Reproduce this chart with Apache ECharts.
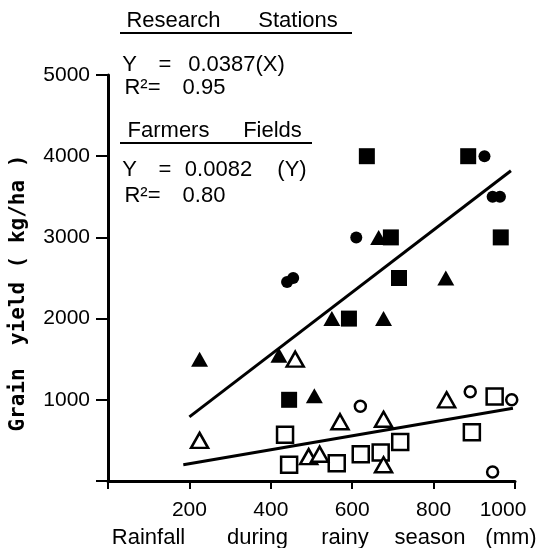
<!doctype html>
<html lang="en">
<head>
    <meta charset="UTF-8" />
    <title>Grain yield vs rainfall</title>
    <script src="https://cdn.jsdelivr.net/npm/echarts@6/dist/echarts.min.js"></script>
    <style>
        html, body { margin: 0; padding: 0; background: #fff; }
        #chart { width: 544px; height: 548px; }
    </style>
</head>
<body>
    <div id="chart"></div>
    <script type="text/javascript">
        // axis ranges
        var xMin = 0, xMax = 1000, xStep = 200;
        var yMin = 0, yMax = 5000, yStep = 1000;

        // research stations (filled markers)
        var stationSquares = [[636, 4000], [885, 4000], [965, 3000], [695, 3000], [715, 2500], [592, 2000], [445, 1000]];
        var stationCircles = [[925, 4000], [945, 3500], [963, 3500], [610, 3000], [440, 2450], [455, 2500]];
        var stationTriangles = [[665, 3000], [830, 2500], [550, 2000], [677, 2000], [225, 1500], [420, 1550], [507, 1050]];

        // farmers fields (open markers)
        var farmSquares = [[435, 570], [445, 200], [562, 220], [621, 330], [670, 350], [718, 480], [894, 600], [950, 1040]];
        var farmCircles = [[620, 920], [890, 1100], [992, 1000], [945, 110]];
        var farmTriangles = [[225, 500], [460, 1500], [493, 300], [520, 330], [570, 730], [677, 760], [677, 200], [832, 1000]];

        // fitted lines (end points)
        var stationFit = [[200, 790], [990, 3820]];
        var farmFit = [[185, 200], [995, 895]];

        // texts
        var xTitle = ['Rainfall', 'during', 'rainy', 'season', '(mm)'];
        var yTitle = ['Grain', 'yield', '( kg/ha )'];
        var stationHead = ['Research', 'Stations'];
        var stationEq = ['Y', '=', '0.0387(X)'];
        var stationR2 = ['R\u00b2=', '0.95'];
        var farmHead = ['Farmers', 'Fields'];
        var farmEq = ['Y', '=', '0.0082', '(Y)'];
        var farmR2 = ['R\u00b2=', '0.80'];

        var FONT = '"Liberation Sans", Arial, sans-serif';

        // one word, centred on x, sitting on baseline `base`
        function word(t, x, base) {
            return {
                type: 'text', x: x, y: base - 6.8, z: 10,
                style: {
                    text: t, fill: '#000', font: '22px ' + FONT,
                    align: 'center', textAlign: 'center',
                    verticalAlign: 'middle', textVerticalAlign: 'middle'
                }
            };
        }
        function row(words, xs, base) {
            return words.map(function (w, i) { return word(w, xs[i], base); });
        }
        function underline(x1, x2, y) {
            return { type: 'line', z: 10, shape: { x1: x1, y1: y, x2: x2, y2: y }, style: { stroke: '#000', lineWidth: 2 } };
        }

        var graphics = []
            .concat(row(stationHead, [173.5, 298], 28))
            .concat([underline(120, 352, 33)])
            .concat(row(stationEq, [129.5, 165, 236.5], 72))
            .concat(row(stationR2, [142.5, 204], 95))
            .concat(row(farmHead, [168.5, 272.5], 138))
            .concat([underline(120, 312, 143)])
            .concat(row(farmEq, [129.5, 165, 218.5, 292], 177))
            .concat(row(farmR2, [142.5, 204], 203))
            .concat(row(xTitle, [148.5, 257.5, 345, 430, 511], 545));

        var yTitleY = [400, 313.5, 211.5];
        yTitle.forEach(function (w, i) {
            graphics.push({
                type: 'text', x: 19, y: yTitleY[i], rotation: Math.PI / 2, z: 10,
                style: {
                    text: w, fill: '#000', font: 'bold 21px "DejaVu Sans Mono", monospace',
                    align: 'center', textAlign: 'center', verticalAlign: 'middle', textVerticalAlign: 'middle'
                }
            });
        });

        function filled(name, sym, size, data) {
            return { name: name, type: 'scatter', symbol: sym, symbolSize: size, data: data, z: 3,
                itemStyle: { color: '#000', opacity: 1 } };
        }
        function open(name, sym, size, data) {
            return { name: name, type: 'scatter', symbol: sym, symbolSize: size, data: data, z: 3,
                itemStyle: { color: '#fff', borderColor: '#000', borderWidth: 2.5, opacity: 1 } };
        }
        function fit(name, data) {
            return { name: name, type: 'line', data: data, symbol: 'none', z: 2,
                lineStyle: { color: '#000', width: 3 } };
        }

        var chart = echarts.init(document.getElementById('chart'));
        var option = {
            animation: false,
            backgroundColor: '#fff',
            grid: { left: 108, right: 29, top: 75, bottom: 67 },
            xAxis: {
                type: 'value', min: xMin, max: xMax, interval: xStep,
                splitLine: { show: false },
                axisLine: { onZero: false, lineStyle: { color: '#000', width: 3 } },
                axisTick: { length: 8, lineStyle: { color: '#000', width: 2 } },
                axisLabel: {
                    margin: 19, color: '#000', fontSize: 21, fontFamily: FONT,
                    formatter: function (v) { return v === 0 ? '' : (v === 1000 ? '{r|' + v + '}' : v); },
                    rich: { r: { color: '#000', fontSize: 21, fontFamily: FONT, padding: [0, 24, 0, 0] } }
                }
            },
            yAxis: {
                type: 'value', min: yMin, max: yMax, interval: yStep,
                splitLine: { show: false },
                axisLine: { onZero: false, lineStyle: { color: '#000', width: 3 } },
                axisTick: { length: 12, lineStyle: { color: '#000', width: 2 } },
                axisLabel: {
                    margin: 18, color: '#000', fontSize: 21, fontFamily: FONT,
                    formatter: function (v) { return v === 0 ? '' : v; }
                }
            },
            graphic: graphics,
            series: [
                fit('Research fit', stationFit),
                fit('Farmers fit', farmFit),
                filled('RS square', 'rect', 16, stationSquares),
                filled('RS circle', 'circle', 12, stationCircles),
                filled('RS triangle', 'triangle', [17, 15], stationTriangles),
                open('FF square', 'rect', 16, farmSquares),
                open('FF circle', 'circle', 11, farmCircles),
                open('FF triangle', 'triangle', [17, 15], farmTriangles)
            ]
        };
        chart.setOption(option);
    </script>
</body>
</html>
